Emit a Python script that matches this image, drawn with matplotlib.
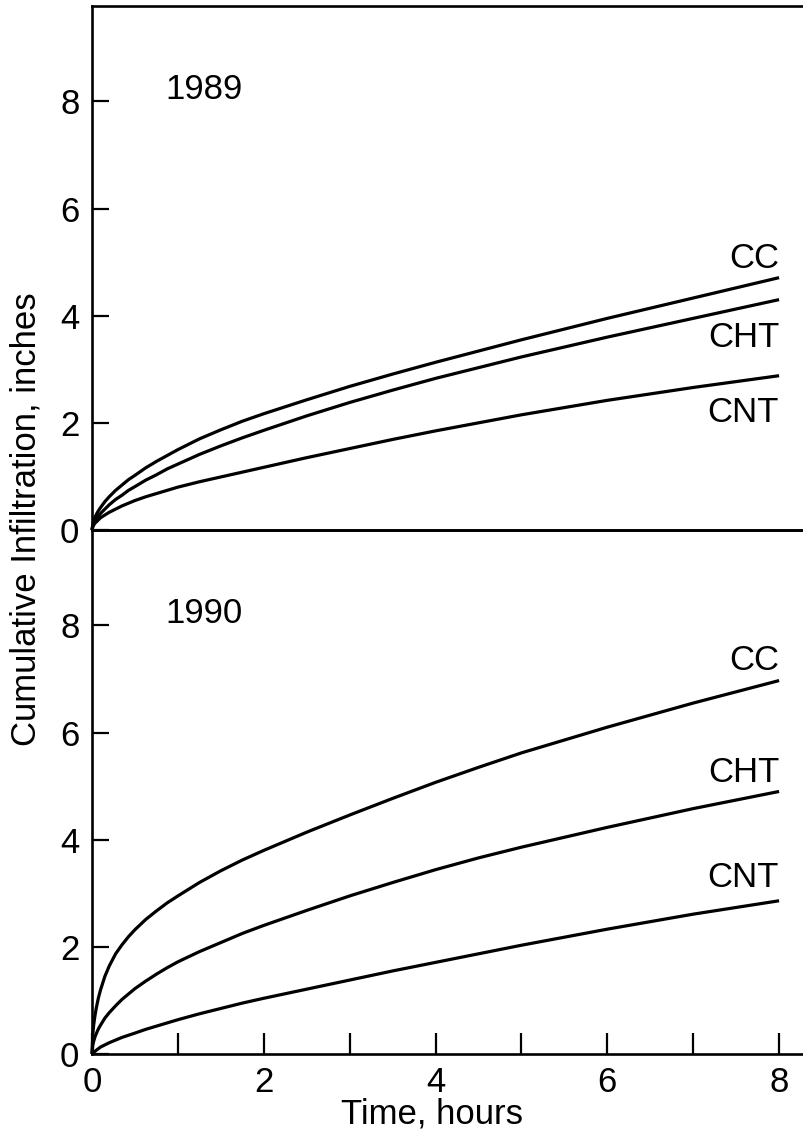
import matplotlib
matplotlib.use("Agg")
import matplotlib.pyplot as plt

# ---------------- data ----------------
time_h = [0, 0.01, 0.02, 0.035, 0.05, 0.075, 0.1, 0.15, 0.2, 0.275, 0.35, 0.425, 0.5,
          0.625, 0.75, 0.875, 1, 1.25, 1.5, 1.75, 2, 2.5, 3, 3.5, 4, 4.5, 5, 6, 7, 8]

cc_1989 = [0, 0.12, 0.17, 0.24, 0.29, 0.36, 0.42, 0.53, 0.62, 0.74, 0.84, 0.94, 1.02,
           1.16, 1.28, 1.39, 1.50, 1.70, 1.87, 2.03, 2.17, 2.43, 2.68, 2.91, 3.13, 3.34, 3.55, 3.95, 4.33, 4.71]
cht_1989 = [0, 0.08, 0.12, 0.16, 0.20, 0.26, 0.31, 0.39, 0.47, 0.57, 0.65, 0.74, 0.81,
            0.93, 1.03, 1.14, 1.23, 1.41, 1.57, 1.72, 1.86, 2.13, 2.38, 2.61, 2.83, 3.03, 3.23, 3.60, 3.95, 4.30]
cnt_1989 = [0, 0.06, 0.09, 0.13, 0.15, 0.19, 0.23, 0.28, 0.33, 0.39, 0.45, 0.50, 0.55,
            0.62, 0.68, 0.74, 0.80, 0.90, 0.99, 1.08, 1.17, 1.35, 1.52, 1.69, 1.85, 2.00, 2.15, 2.42, 2.66, 2.88]

cc_1990 = [0, 0.38, 0.55, 0.72, 0.86, 1.05, 1.20, 1.45, 1.64, 1.87, 2.04, 2.19, 2.32,
           2.51, 2.67, 2.82, 2.95, 3.20, 3.42, 3.62, 3.80, 4.14, 4.46, 4.77, 5.07, 5.35, 5.62, 6.10, 6.55, 6.97]
cht_1990 = [0, 0.17, 0.24, 0.32, 0.38, 0.47, 0.54, 0.67, 0.77, 0.90, 1.02, 1.12, 1.22,
            1.36, 1.49, 1.61, 1.72, 1.91, 2.08, 2.25, 2.40, 2.68, 2.95, 3.20, 3.44, 3.66, 3.86, 4.23, 4.58, 4.90]
cnt_1990 = [0, 0.02, 0.03, 0.05, 0.07, 0.10, 0.13, 0.17, 0.21, 0.26, 0.31, 0.35, 0.39,
            0.46, 0.52, 0.58, 0.64, 0.75, 0.85, 0.95, 1.04, 1.21, 1.38, 1.55, 1.71, 1.87, 2.03, 2.33, 2.61, 2.86]

series_names = ["CC", "CHT", "CNT"]
years = ["1989", "1990"]
y_ticks = [0, 2, 4, 6, 8]
x_major = [0, 2, 4, 6, 8]
x_minor = [1, 3, 5, 7]

# label positions (data coords) of the series names
label_y_1989 = [5.07, 3.59, 2.19]
label_y_1990 = [7.35, 5.25, 3.29]

plt.rcParams['font.family'] = ['Liberation Sans', 'DejaVu Sans']

W, H = 804, 1141
fig = plt.figure(figsize=(W / 100, H / 100), dpi=100)

x0 = 92 / W
xmax = 8.29
ymax = 9.78
top_ax = fig.add_axes([x0, 1 - 530 / H, 1 - x0, (530 - 6) / H])
bot_ax = fig.add_axes([x0, 1 - 1054 / H, 1 - x0, (1054 - 530) / H])
bot_ax.patch.set_visible(False)

fs = 25
lw_spine = 1.9
lw_curve = 2.3

panels = [
    (top_ax, [cc_1989, cht_1989, cnt_1989], label_y_1989, years[0]),
    (bot_ax, [cc_1990, cht_1990, cnt_1990], label_y_1990, years[1]),
]

for ax, data, label_y, yr in panels:
    for vals in data:
        ax.plot(time_h, vals, color="black", lw=lw_curve, solid_capstyle="butt",
                solid_joinstyle="round", clip_on=False)
    for name, ly in zip(series_names, label_y):
        ax.text(8.0, ly, name, ha="right", va="center", fontsize=fs, color="black")
    ax.text(0.85, 8.22, yr, ha="left", va="center", fontsize=fs, color="black")
    ax.set_xlim(0, xmax)
    ax.set_ylim(0, ymax)
    ax.set_yticks(y_ticks)
    ax.set_yticklabels([str(v) for v in y_ticks])
    ax.tick_params(axis="y", direction="in", length=12, width=1.6, pad=9,
                   labelsize=fs, left=True, right=False)
    ax.spines["right"].set_visible(False)
    for s in ["left", "top", "bottom"]:
        ax.spines[s].set_linewidth(lw_spine)

# top panel: no x ticks
top_ax.tick_params(axis="x", bottom=False, labelbottom=False, top=False)

# bottom panel
bot_ax.set_xticks(x_major)
bot_ax.set_xticklabels([str(v) for v in x_major])
bot_ax.set_xticks(x_minor, minor=True)
bot_ax.tick_params(axis="x", which="major", direction="in", length=15, width=1.6,
                   pad=9, labelsize=fs, top=False)
bot_ax.tick_params(axis="x", which="minor", direction="in", length=15, width=1.6, top=False)

fig.text(432 / W, 1 - 1114 / H, "Time, hours", ha="center", va="center", fontsize=fs)
fig.text(26 / W, 1 - 519 / H, "Cumulative Infiltration, inches", rotation=90,
         ha="center", va="center", fontsize=25)

fig.savefig("out.png", dpi=100, facecolor="white")
